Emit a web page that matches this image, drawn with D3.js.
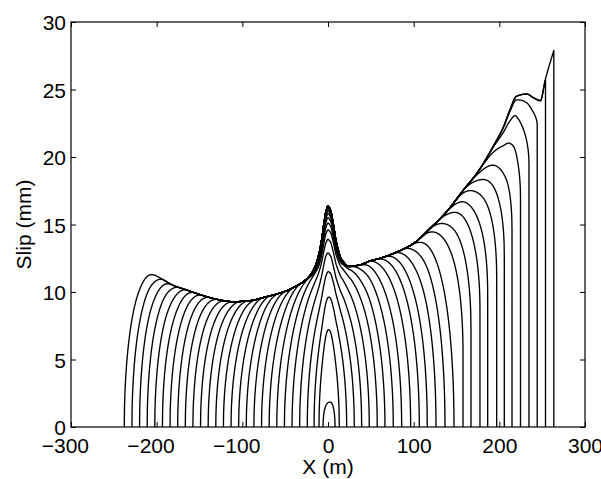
<!DOCTYPE html>
<html><head><meta charset="utf-8">
<script src="https://cdn.jsdelivr.net/npm/d3@7"></script>
<style>
body{margin:0;background:#fff}
svg text{font-family:"Liberation Sans",Arial,Helvetica,sans-serif;fill:#000}
</style>
</head><body>
<svg id="chart" width="601" height="479"></svg>
<script>
// ---------- data ----------
const xTicks = [-300, -200, -100, 0, 100, 200, 300];
const yTicks = [0, 5, 10, 15, 20, 25, 30];
const xLabel = "X (m)";
const yLabel = "Slip (mm)";

// final slip profile (upper envelope), x in m, slip in mm
const envX = [-238, -227, -220, -211.6, -203, -192, -181, -165, -149, -130, -110, -91, -72, -52, -40, -29, -20, -15, -11, -7.5, -4.7, -2.3, 0, 3, 6, 10, 16, 25, 37, 49, 61, 80, 100, 119, 138.5, 158, 175, 193, 204.6, 212.4, 220, 232, 240, 248, 253.5, 263.6];
const envY = [12.6, 12.3, 12.0, 11.7, 11.3, 10.9, 10.5, 10.15, 9.8, 9.46, 9.28, 9.36, 9.65, 10.0, 10.35, 10.75, 11.3, 11.9, 12.7, 13.85, 15.1, 16.0, 16.35, 16.05, 15.1, 13.6, 12.4, 11.9, 12.0, 12.3, 12.5, 12.95, 13.6, 14.7, 15.95, 17.55, 18.9, 20.8, 22.2, 23.5, 24.5, 24.67, 24.4, 24.2, 25.7, 27.9];

// successive snapshots (earliest first)
const leftFront  = [-5.8, -10.5, -16.3, -24.2, -33.1, -42.0, -50.9, -59.8, -68.7, -77.6, -86.5, -95.4, -104.3, -113.2, -122.1, -131.0, -139.9, -148.8, -157.7, -166.6, -175.5, -184.4, -193.3, -202.2, -211.1, -220.0, -228.9, -237.8];
const rightFront = [8.2, 13.2, 21.8, 30.7, 39.3, 48.2, 57.5, 66.5, 76.2, 86.0, 96.5, 106.6, 115.9, 126.1, 136.6, 147.1, 157.6, 166.9, 177.4, 186.4, 196.9, 205.8, 214.8, 224.7, 234.6, 244.2, 253.9, 263.6];
const centerPeak = [1.8, 7.2, 9.6, 11.5, 12.9, 13.9, 14.6, 15.1, 15.5, 15.8, 16.0, 16.15, 16.25, 16.3, 16.35, 16.35, 16.35, 16.35, 16.35, 16.35, 16.35, 16.35, 16.35, 16.35, 16.35, 16.35, 16.35, 16.35];
const tipSlip    = [0, 0, 0, 0, 0, 0, 0, 0, 0, 0, 0, 0, 0, 0, 0, 0, 5.5, 7.3, 8.7, 9.9, 11.1, 12.7, 14.6, 17.0, 19.5, 22.4, 25.7, 27.9];

// ---------- layout ----------
const plot = {left: 71, right: 585, top: 22, bottom: 427};
const FS = 21;

const svg = d3.select("#chart");
const x = d3.scaleLinear().domain([-300, 300]).range([plot.left, plot.right]);
const y = d3.scaleLinear().domain([0, 30]).range([plot.bottom, plot.top]);

// monotone cubic evaluation of the envelope
function monotone(xs, ys) {
  const n = xs.length, d = [], m = new Array(n);
  for (let i = 0; i < n - 1; i++) d.push((ys[i + 1] - ys[i]) / (xs[i + 1] - xs[i]));
  m[0] = d[0]; m[n - 1] = d[n - 2];
  for (let i = 1; i < n - 1; i++) {
    if (d[i - 1] * d[i] <= 0) m[i] = 0;
    else {
      const h0 = xs[i] - xs[i - 1], h1 = xs[i + 1] - xs[i];
      m[i] = 3 * (h0 + h1) / ((2 * h1 + h0) / d[i - 1] + (h1 + 2 * h0) / d[i]);
    }
  }
  return function (t) {
    if (t <= xs[0]) return ys[0];
    if (t >= xs[n - 1]) return ys[n - 1];
    const i = d3.bisectRight(xs, t) - 1;
    const h = xs[i + 1] - xs[i], s = (t - xs[i]) / h;
    const h00 = 2 * s * s * s - 3 * s * s + 1, h10 = s * s * s - 2 * s * s + s;
    const h01 = -2 * s * s * s + 3 * s * s, h11 = s * s * s - s * s;
    return h00 * ys[i] + h10 * h * m[i] + h01 * ys[i + 1] + h11 * h * m[i + 1];
  };
}
const F = monotone(envX, envY);
const ell = (u, w) => u >= w ? 1 : (u <= 0 ? 0 : Math.sqrt(1 - Math.pow(1 - u / w, 2)));
const wL = 38, wR = 50, sig = 15;

function snapshot(k) {
  const L = leftFront[k], R = rightFront[k];
  const r0 = Math.min(1, tipSlip[k] / F(R));
  const base = t => F(t) * ell(t - L, wL) * (r0 + (1 - r0) * ell(R - t, wR));
  const c = centerPeak[k] / base(0);
  const s = t => base(t) * (1 + (c - 1) * Math.exp(-(t / sig) * (t / sig)));
  const pts = [[L, 0]];
  for (let t = L + 0.2; t < R; t += 0.25) pts.push([t, s(t)]);
  pts.push([R, s(R)]);
  pts.push([R, 0]);
  return pts;
}

const line = d3.line().x(p => x(p[0])).y(p => y(p[1]));
const curves = svg.append("g");
leftFront.forEach((_, k) => {
  curves.append("path").attr("d", line(snapshot(k)))
    .attr("fill", "none").attr("stroke", "#000").attr("stroke-width", 1.35)
    .attr("stroke-linejoin", "round");
});

// ---------- axes ----------
const digitsW = v => String(Math.abs(v)).length * 0.556 * FS;
const fmt = v => (v < 0 ? "\u2212" : "") + Math.abs(v);

const gx = svg.append("g").attr("transform", `translate(0,${plot.bottom})`)
  .call(d3.axisBottom(x).tickValues(xTicks).tickSize(-5).tickFormat(fmt));
gx.selectAll("text").attr("y", 26).attr("dy", null).attr("font-size", FS)
  .attr("text-anchor", "end").attr("x", d => digitsW(d) / 2);
svg.append("g").attr("transform", `translate(0,${plot.top})`)
  .call(d3.axisTop(x).tickValues(xTicks).tickSize(-5).tickFormat(""));
const gy = svg.append("g").attr("transform", `translate(${plot.left},0)`)
  .call(d3.axisLeft(y).tickValues(yTicks).tickSize(-5));
gy.selectAll("text").attr("x", -5).attr("dy", "0.36em").attr("font-size", FS).attr("text-anchor", "end");
svg.append("g").attr("transform", `translate(${plot.right},0)`)
  .call(d3.axisRight(y).tickValues(yTicks).tickSize(-5).tickFormat(""));
svg.selectAll(".domain").remove();
svg.selectAll(".tick line").attr("stroke", "#000").attr("stroke-width", 1);
svg.append("rect").attr("x", plot.left).attr("y", plot.top)
  .attr("width", plot.right - plot.left).attr("height", plot.bottom - plot.top)
  .attr("fill", "none").attr("stroke", "#000").attr("stroke-width", 1.2);

svg.append("text").attr("x", (plot.left + plot.right) / 2).attr("y", 474)
  .attr("text-anchor", "middle").attr("font-size", FS).text(xLabel);
svg.append("text").attr("transform", `translate(31,${(plot.top + plot.bottom) / 2}) rotate(-90)`)
  .attr("text-anchor", "middle").attr("font-size", FS).text(yLabel);
</script>
</body></html>
